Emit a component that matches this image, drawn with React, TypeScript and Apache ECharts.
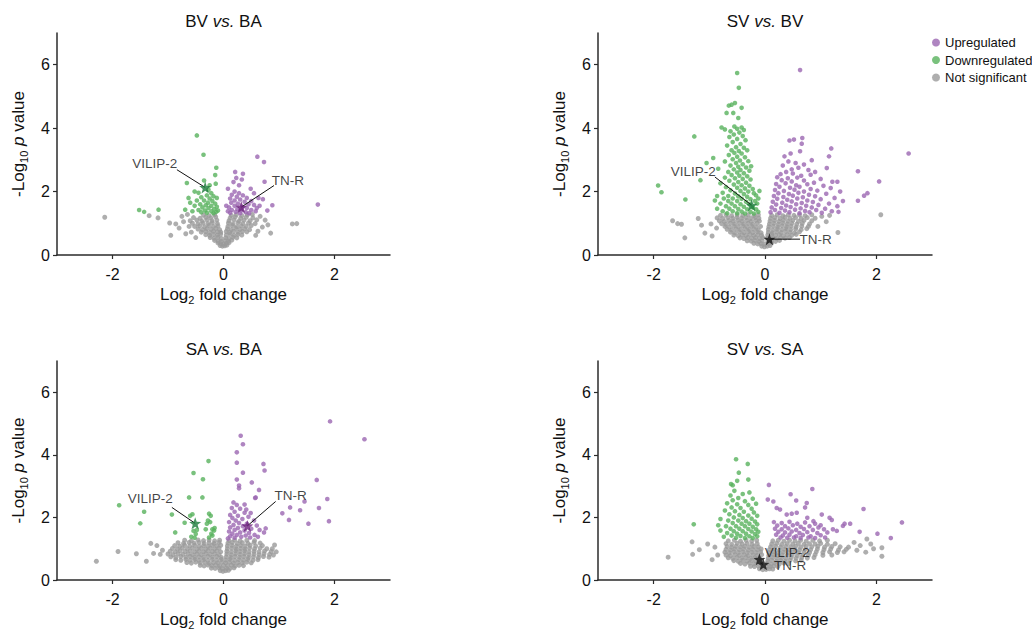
import React, { useEffect, useRef } from 'react';
import * as echarts from 'echarts';

const PANEL_TITLES = [['BV', 'BA'], ['SV', 'BV'], ['SA', 'BA'], ['SV', 'SA']];
const LEGEND_NAMES = ['Upregulated', 'Downregulated', 'Not significant'];
const X_TICKS = [-2, 0, 2];
const Y_TICKS = [0, 2, 4, 6];

// ---------- Panel 1: BV vs. BA ----------
const P1_UP = [[0.61,3.10],[0.73,2.93],[0.21,2.62],[0.35,2.56],[0.23,2.43],[0.33,2.38],[0.74,2.31],[0.08,2.09],[0.49,2.09],[0.63,1.80],[0.71,1.76],[0.88,1.57],[0.79,1.40],[1.70,1.59],
[0.2,2.0],[0.28,1.95],[0.15,1.9],[0.35,1.88],[0.24,1.84],[0.42,1.8],[0.12,1.78],[0.3,1.75],[0.2,1.72],[0.5,1.7],[0.38,1.68],[0.14,1.65],[0.26,1.62],[0.45,1.6],[0.55,1.58],[0.2,1.55],[0.34,1.52],[0.1,1.5],[0.42,1.48],[0.6,1.48],[0.25,1.45],[0.15,1.42],[0.5,1.42],[0.32,1.4],[0.08,1.38],[0.22,1.36],[0.4,1.35],[0.58,1.38],[0.12,1.33],[0.3,1.32],[0.46,1.32],[0.28,2.2],[0.55,1.95],[0.65,1.55],[0.18,2.3],[0.05,1.55]];
const P1_DOWN = [[-0.48,3.77],[-0.36,3.16],[-0.13,2.75],[-0.15,2.52],[-0.66,2.27],[-0.14,2.25],[-0.27,2.06],[-0.45,1.96],[-0.63,1.80],[-0.48,1.72],[-0.69,1.43],[-1.52,1.42],[-1.43,1.36],[-1.17,1.43],
[-0.22,1.95],[-0.3,1.88],[-0.18,1.85],[-0.4,1.82],[-0.25,1.78],[-0.12,1.8],[-0.35,1.72],[-0.2,1.7],[-0.28,1.65],[-0.15,1.62],[-0.42,1.6],[-0.32,1.57],[-0.22,1.55],[-0.12,1.52],[-0.38,1.5],[-0.27,1.48],[-0.17,1.45],[-0.45,1.42],[-0.33,1.4],[-0.22,1.38],[-0.13,1.36],[-0.52,1.55],[-0.56,1.38],[-0.3,1.33],[-0.4,1.35],[-0.18,1.32],[-0.25,2.2],[-0.52,2.0],[-0.35,2.35],[-0.1,1.4],[-0.6,1.65]];
const P1_NS = [[-2.14,1.19],[-1.34,1.24],[-1.18,1.17],[-0.97,1.01],[-0.86,0.98],[-0.95,0.62],[-0.75,1.22],[-0.68,0.67],[1.24,0.98],[1.32,0.99],[0.85,0.69],[0.66,1.22],[0.70,0.88],[-0.8,0.85],[-0.72,1.05],[0.75,1.1],[0.8,0.95],[-0.62,0.9],[0.62,0.75],[-0.58,0.72],[0.58,0.62],[-0.5,0.55],[0.52,1.28],[-0.65,1.28],
[-0.06,0.3],[-0.02,0.28],[0.02,0.29],[0.06,0.31],
[-0.1,0.38],[-0.05,0.36],[0.0,0.35],[0.05,0.37],[0.1,0.39],
[-0.16,0.46],[-0.1,0.44],[-0.04,0.43],[0.03,0.45],[0.09,0.44],[0.15,0.47],
[-0.24,0.55],[-0.17,0.53],[-0.1,0.56],[-0.04,0.52],[0.04,0.54],[0.1,0.52],[0.17,0.56],[0.24,0.54],
[-0.32,0.64],[-0.25,0.62],[-0.18,0.65],[-0.11,0.63],[-0.05,0.66],[0.05,0.63],[0.12,0.66],[0.19,0.62],[0.26,0.65],[0.33,0.63],
[-0.4,0.72],[-0.32,0.74],[-0.25,0.71],[-0.18,0.75],[-0.11,0.73],[-0.05,0.72],[0.05,0.74],[0.11,0.71],[0.18,0.75],[0.26,0.72],[0.34,0.74],[0.42,0.73],
[-0.46,0.82],[-0.38,0.8],[-0.3,0.83],[-0.22,0.81],[-0.14,0.84],[-0.07,0.8],[0.07,0.82],[0.14,0.8],[0.22,0.84],[0.3,0.81],[0.38,0.83],[0.47,0.8],
[-0.52,0.9],[-0.43,0.92],[-0.34,0.89],[-0.26,0.93],[-0.18,0.9],[-0.1,0.92],[0.08,0.9],[0.16,0.93],[0.24,0.89],[0.32,0.92],[0.41,0.9],[0.5,0.93],
[-0.56,1.0],[-0.46,0.98],[-0.37,1.01],[-0.28,0.99],[-0.2,1.02],[-0.11,0.99],[0.09,1.01],[0.17,0.98],[0.26,1.02],[0.35,0.99],[0.45,1.01],[0.57,0.99],
[-0.6,1.08],[-0.48,1.1],[-0.39,1.07],[-0.3,1.11],[-0.21,1.08],[-0.12,1.1],[0.1,1.08],[0.19,1.11],[0.28,1.07],[0.37,1.1],[0.48,1.08],[0.6,1.11],
[-0.54,1.18],[-0.42,1.16],[-0.32,1.19],[-0.23,1.17],[-0.14,1.2],[0.12,1.17],[0.21,1.2],[0.31,1.16],[0.41,1.19],[0.53,1.17],
[-0.36,1.26],[-0.26,1.24],[-0.16,1.27],[0.14,1.25],[0.23,1.27],[0.33,1.24],[0.43,1.27]];
const P1_STARS = [['VILIP-2', -0.33, 2.13], ['TN-R', 0.32, 1.51]];
const P1_NOTES = [['VILIP-2', -1.24, 2.90, -0.84, 2.69], ['TN-R', 1.16, 2.34, 0.91, 2.19]];

// ---------- Panel 2: SV vs. BV ----------
const P2_UP = [[0.63,5.83],[0.44,3.61],[0.52,3.64],[0.67,3.69],[1.19,3.36],[2.58,3.2],[0.35,3.11],[0.46,3.2],[0.66,3.51],[0.63,3.27],[1.15,3.11],[0.84,2.99],[1.11,2.74],[1.67,2.64],[1.21,2.31],[2.05,2.32],[1.84,1.95],[1.78,1.87],[1.67,1.71],
[0.42,2.95],[0.55,2.9],[0.7,2.85],[0.32,2.82],[0.6,2.75],[0.48,2.7],[0.78,2.68],[0.38,2.62],[0.9,2.62],
[0.28,2.55],[0.5,2.57],[0.65,2.5],[0.82,2.53],[0.22,2.45],[0.41,2.42],[0.58,2.44],[1.0,2.4],[0.3,2.36],[0.48,2.32],[0.7,2.35],[0.88,2.28],[1.3,2.31],[0.2,2.24],[0.37,2.26],[0.56,2.2],[0.76,2.23],[1.05,2.18],
[0.26,2.15],[0.45,2.12],[0.62,2.15],[0.82,2.08],[1.18,2.11],[0.18,2.05],[0.34,2.02],[0.53,2.06],[0.7,2.0],[0.94,2.03],[1.35,2.0],[0.24,1.95],[0.43,1.92],[0.6,1.96],[0.79,1.9],[1.1,1.93],[0.16,1.86],[0.33,1.83],[0.5,1.87],[0.68,1.82],[0.9,1.85],[1.25,1.8],
[0.22,1.77],[0.4,1.74],[0.58,1.78],[0.76,1.72],[1.0,1.76],[1.4,1.7],[0.14,1.68],[0.31,1.65],[0.48,1.69],[0.66,1.64],[0.86,1.67],[1.15,1.62],[0.2,1.59],[0.38,1.56],[0.56,1.6],[0.74,1.55],[0.96,1.58],[1.3,1.54],[0.12,1.5],[0.29,1.48],[0.46,1.51],[0.64,1.47],[0.84,1.5],[1.08,1.46],[0.18,1.42],[0.36,1.4],[0.54,1.43],[0.72,1.39],[0.92,1.42],[1.2,1.38],[0.1,1.35],[0.26,1.33],[0.44,1.35],[0.62,1.32],[0.8,1.35],[1.02,1.33],[1.32,1.36]];
const P2_DOWN = [[-0.50,5.74],[-0.47,5.27],[-0.60,4.74],[-0.54,4.79],[-0.65,4.71],[-0.42,4.64],[-0.69,4.48],[-0.57,4.48],[-0.48,4.32],[-1.27,3.74],[-1.92,2.19],[-1.86,1.98],[-1.43,1.75],[-1.16,2.36],[-1.05,2.9],[-0.93,3.06],
[-0.78,4.02],[-0.72,3.96],[-0.55,4.05],[-0.5,3.98],[-0.42,4.02],[-0.38,3.94],[-0.62,3.9],[-0.46,3.86],[-0.56,3.8],[-0.4,3.75],[-0.64,3.72],[-0.5,3.66],[-0.35,3.62],[-0.58,3.56],[-0.44,3.5],[-0.68,3.45],[-0.52,3.4],[-0.38,3.38],[-0.6,3.3],[-0.47,3.28],[-0.32,3.3],
[-0.55,3.22],[-0.42,3.2],[-0.65,3.15],[-0.5,3.1],[-0.36,3.08],[-0.58,3.02],[-0.45,2.98],[-0.3,2.96],[-0.72,2.95],[-0.52,2.9],[-0.4,2.86],[-0.62,2.82],[-0.48,2.78],[-0.34,2.76],[-0.56,2.7],[-0.44,2.68],[-0.28,2.66],[-0.66,2.62],[-0.5,2.6],[-0.38,2.58],[-0.84,2.72],[-0.25,2.8],
[-0.6,2.52],[-0.46,2.5],[-0.32,2.48],[-0.72,2.44],[-0.54,2.42],[-0.4,2.4],[-0.26,2.38],[-0.64,2.34],[-0.48,2.3],[-0.34,2.28],[-0.8,2.26],[-0.56,2.22],[-0.42,2.2],[-0.28,2.18],[-0.7,2.14],[-0.5,2.12],[-0.36,2.1],[-0.22,2.08],[-0.62,2.04],[-0.44,2.02],[-0.3,2.0],[-0.76,1.96],[-0.54,1.94],[-0.38,1.92],[-0.2,1.95],[-0.1,2.02],[-0.12,1.78],
[-0.86,1.86],[-0.66,1.86],[-0.48,1.85],[-0.32,1.84],[-0.16,1.88],[-0.74,1.78],[-0.58,1.78],[-0.42,1.77],[-0.26,1.76],[-0.9,1.72],[-0.66,1.7],[-0.5,1.7],[-0.34,1.68],[-0.18,1.7],[-0.8,1.62],[-0.6,1.62],[-0.44,1.6],[-0.28,1.6],[-0.14,1.62],[-0.7,1.54],[-0.54,1.54],[-0.38,1.52],[-0.22,1.5],[-0.86,1.46],[-0.64,1.46],[-0.48,1.45],[-0.32,1.44],[-0.16,1.44],[-0.76,1.38],[-0.58,1.38],[-0.42,1.37],[-0.26,1.36],[-0.12,1.36],[-0.68,1.32],[-0.5,1.32],[-0.36,1.31],[-0.2,1.31]];
const P2_NS = [[-1.66,1.08],[-1.57,0.99],[-1.5,0.97],[-1.44,0.54],[-1.14,0.94],[-0.97,0.98],[-1.08,0.69],[-0.87,0.85],[1.31,0.71],[1.16,1.25],[1.02,1.22],[2.08,1.27],[-1.2,1.15],[-0.95,0.6],[1.1,1.05],[0.95,0.9],
[-0.06,0.28],[-0.01,0.26],[0.04,0.28],[0.09,0.3],
[-0.2,0.37],[-0.13,0.35],[-0.07,0.36],[0.0,0.34],[0.06,0.36],[0.12,0.38],
[-0.32,0.45],[-0.25,0.44],[-0.18,0.46],[-0.11,0.43],[-0.05,0.45],[0.05,0.44],[0.12,0.46],[0.19,0.43],[0.26,0.46],
[-0.45,0.54],[-0.38,0.52],[-0.31,0.55],[-0.24,0.53],[-0.17,0.55],[-0.1,0.52],[-0.04,0.55],[0.04,0.53],[0.14,0.55],[0.21,0.52],[0.28,0.55],[0.36,0.53],[0.44,0.55],
[-0.56,0.63],[-0.48,0.61],[-0.41,0.64],[-0.34,0.62],[-0.27,0.65],[-0.2,0.62],[-0.13,0.64],[-0.06,0.62],[0.05,0.63],[0.12,0.65],[0.19,0.62],[0.26,0.64],[0.33,0.61],[0.4,0.64],[0.48,0.62],[0.56,0.65],
[-0.62,0.72],[-0.54,0.7],[-0.46,0.73],[-0.38,0.71],[-0.3,0.74],[-0.22,0.71],[-0.14,0.73],[-0.07,0.7],[0.06,0.72],[0.13,0.7],[0.21,0.73],[0.29,0.71],[0.37,0.74],[0.45,0.72],[0.53,0.7],[0.62,0.73],
[-0.68,0.81],[-0.6,0.79],[-0.52,0.82],[-0.44,0.8],[-0.36,0.83],[-0.28,0.8],[-0.2,0.82],[-0.12,0.79],[0.06,0.81],[0.14,0.79],[0.22,0.82],[0.3,0.8],[0.38,0.83],[0.46,0.8],[0.55,0.82],[0.65,0.8],[0.75,0.83],
[-0.72,0.9],[-0.64,0.88],[-0.56,0.91],[-0.48,0.89],[-0.4,0.92],[-0.32,0.89],[-0.24,0.91],[-0.16,0.88],[-0.08,0.9],[0.07,0.89],[0.15,0.91],[0.23,0.88],[0.31,0.92],[0.39,0.89],[0.47,0.91],[0.56,0.88],[0.66,0.91],[0.78,0.9],
[-0.78,0.99],[-0.7,0.97],[-0.62,1.0],[-0.54,0.98],[-0.46,1.01],[-0.38,0.98],[-0.3,1.0],[-0.22,0.97],[-0.14,1.0],[0.08,0.98],[0.16,1.0],[0.24,0.97],[0.32,1.01],[0.4,0.98],[0.48,1.0],[0.57,0.97],[0.67,1.0],[0.8,0.98],
[-0.82,1.08],[-0.73,1.06],[-0.65,1.09],[-0.57,1.07],[-0.49,1.1],[-0.41,1.07],[-0.33,1.09],[-0.25,1.06],[-0.17,1.09],[-0.1,1.07],[0.09,1.07],[0.17,1.09],[0.25,1.06],[0.33,1.1],[0.41,1.07],[0.5,1.09],[0.6,1.06],[0.7,1.09],[0.84,1.08],
[-0.86,1.17],[-0.76,1.15],[-0.67,1.18],[-0.58,1.16],[-0.5,1.19],[-0.42,1.16],[-0.34,1.18],[-0.26,1.15],[-0.18,1.18],[-0.11,1.16],[0.1,1.16],[0.18,1.18],[0.27,1.15],[0.36,1.19],[0.45,1.16],[0.55,1.18],[0.65,1.15],[0.76,1.18],[0.9,1.16],
[-0.8,1.25],[-0.7,1.27],[-0.6,1.24],[-0.5,1.27],[-0.4,1.25],[-0.3,1.27],[-0.2,1.24],[-0.12,1.27],[0.12,1.25],[0.22,1.27],[0.32,1.24],[0.42,1.27],[0.52,1.25],[0.62,1.27],[0.72,1.24],[0.84,1.27]];
const P2_STARS = [['VILIP-2', -0.24, 1.57], ['TN-R', 0.08, 0.50]];
const P2_NOTES = [['VILIP-2', -1.29, 2.64, -0.9, 2.46], ['TN-R', 0.91, 0.50, 0.63, 0.50]];

// ---------- Panel 3: SA vs. BA ----------
const P3_UP = [[1.92,5.07],[2.54,4.50],[0.31,4.61],[0.35,4.34],[0.24,4.08],[0.24,3.75],[0.72,3.71],[0.74,3.50],[0.35,3.43],[0.24,3.21],[0.51,3.12],[1.68,3.20],[0.28,3.02],[0.28,2.93],[0.64,2.88],[0.58,2.64],[1.87,2.59],[1.46,2.51],[1.72,2.30],[1.2,2.32],[1.38,2.23],[1.06,2.13],[1.18,1.92],[1.90,1.88],[1.53,1.80],[0.76,1.65],[0.73,1.52],
[0.18,2.48],[0.24,2.4],[0.15,2.3],[0.3,2.28],[0.2,2.18],[0.38,2.15],[0.12,2.08],[0.26,2.05],[0.45,2.02],[0.16,1.98],[0.34,1.95],[0.22,1.9],[0.55,1.9],[0.1,1.85],[0.28,1.82],[0.42,1.8],[0.18,1.76],[0.35,1.72],[0.6,1.74],[0.12,1.68],[0.26,1.66],[0.5,1.64],[0.2,1.6],[0.38,1.58],[0.65,1.6],[0.1,1.55],[0.3,1.52],[0.46,1.5],[0.16,1.48],[0.24,1.44],[0.4,1.42],[0.56,1.44],[0.12,1.4],[0.32,1.38],[0.2,1.35],[0.48,1.36],[0.08,1.33],[0.62,1.38],[0.41,2.25],[0.49,2.14],[0.57,2.62],[0.38,2.41]];
const P3_DOWN = [[-0.27,3.80],[-0.54,3.42],[-0.37,3.22],[-0.62,2.64],[-0.38,2.64],[-1.88,2.39],[-1.43,2.18],[-1.50,1.81],[-0.93,2.09],[-0.70,1.83],[-0.87,1.52],
[-0.54,1.57],[-0.5,1.47],[-0.48,1.6],[-0.58,1.38],[-0.52,1.35],[-0.56,2.1],[-0.6,2.05],
[-0.26,2.12],[-0.23,2.05],[-0.28,1.9],[-0.24,1.85],[-0.2,1.62],[-0.17,1.58],[-0.22,1.48],[-0.2,1.42],[-0.26,1.36],[-0.3,1.8],[-0.16,1.66],[-0.32,1.62]];
const P3_NS = [[-2.29,0.6],[-1.9,0.91],[-1.57,0.84],[-1.39,0.6],[-1.31,1.17],[-1.26,0.85],[-1.14,0.82],[-1.1,0.95],[0.9,0.8],[0.95,0.9],[0.88,1.0],[0.92,1.12],[-1.2,1.1],
[-0.06,0.3],[-0.01,0.28],[0.04,0.3],[0.09,0.31],
[-0.22,0.38],[-0.15,0.37],[-0.08,0.39],[-0.02,0.36],[0.05,0.38],[0.12,0.37],[0.19,0.39],
[-0.42,0.47],[-0.35,0.45],[-0.28,0.48],[-0.21,0.46],[-0.14,0.48],[-0.07,0.45],[0.0,0.47],[0.07,0.46],[0.14,0.48],[0.21,0.45],[0.28,0.47],[0.36,0.46],
[-0.66,0.56],[-0.58,0.54],[-0.5,0.57],[-0.42,0.55],[-0.34,0.57],[-0.26,0.54],[-0.18,0.56],[-0.1,0.55],[-0.03,0.57],[0.04,0.55],[0.11,0.57],[0.18,0.54],[0.26,0.56],[0.34,0.55],[0.42,0.57],[0.5,0.55],
[-0.86,0.65],[-0.77,0.63],[-0.68,0.66],[-0.6,0.64],[-0.52,0.66],[-0.44,0.63],[-0.36,0.65],[-0.28,0.63],[-0.2,0.66],[-0.12,0.64],[-0.04,0.66],[0.04,0.64],[0.12,0.66],[0.2,0.63],[0.28,0.65],[0.36,0.64],[0.44,0.66],[0.53,0.63],[0.62,0.65],
[-0.95,0.74],[-0.86,0.72],[-0.77,0.75],[-0.68,0.73],[-0.6,0.75],[-0.52,0.72],[-0.44,0.74],[-0.36,0.72],[-0.28,0.75],[-0.2,0.73],[-0.12,0.75],[-0.04,0.72],[0.05,0.74],[0.13,0.72],[0.21,0.75],[0.29,0.73],[0.37,0.75],[0.45,0.72],[0.54,0.74],[0.63,0.72],[0.72,0.75],[0.82,0.73],
[-1.0,0.83],[-0.91,0.81],[-0.82,0.84],[-0.73,0.82],[-0.64,0.84],[-0.56,0.81],[-0.48,0.83],[-0.4,0.81],[-0.32,0.84],[-0.24,0.82],[-0.16,0.84],[-0.08,0.81],[0.06,0.83],[0.14,0.81],[0.22,0.84],[0.3,0.82],[0.38,0.84],[0.46,0.81],[0.55,0.83],[0.64,0.81],[0.73,0.84],[0.83,0.82],
[-0.96,0.92],[-0.87,0.9],[-0.78,0.93],[-0.69,0.91],[-0.6,0.93],[-0.52,0.9],[-0.44,0.92],[-0.36,0.9],[-0.28,0.93],[-0.2,0.91],[-0.12,0.93],[-0.05,0.9],[0.06,0.92],[0.14,0.9],[0.22,0.93],[0.3,0.91],[0.38,0.93],[0.46,0.9],[0.55,0.92],[0.64,0.9],[0.74,0.93],[0.86,0.91],
[-0.92,1.01],[-0.83,0.99],[-0.74,1.02],[-0.65,1.0],[-0.56,1.02],[-0.48,0.99],[-0.4,1.01],[-0.32,0.99],[-0.24,1.02],[-0.16,1.0],[-0.08,1.02],[0.07,1.0],[0.15,1.02],[0.23,0.99],[0.31,1.01],[0.39,0.99],[0.47,1.02],[0.56,1.0],[0.66,1.02],[0.78,1.0],
[-0.88,1.1],[-0.79,1.08],[-0.7,1.11],[-0.61,1.09],[-0.52,1.11],[-0.44,1.08],[-0.36,1.1],[-0.28,1.08],[-0.2,1.11],[-0.12,1.09],[-0.05,1.11],[0.07,1.09],[0.15,1.11],[0.23,1.08],[0.31,1.1],[0.39,1.08],[0.48,1.11],[0.58,1.09],[0.7,1.1],
[-0.82,1.19],[-0.72,1.17],[-0.62,1.2],[-0.53,1.18],[-0.44,1.2],[-0.35,1.17],[-0.26,1.19],[-0.17,1.17],[-0.08,1.2],[0.08,1.18],[0.16,1.2],[0.25,1.17],[0.34,1.19],[0.44,1.17],[0.55,1.2],[0.66,1.18],
[-0.7,1.27],[-0.58,1.25],[-0.46,1.28],[-0.36,1.26],[-0.26,1.28],[-0.16,1.25],[-0.07,1.27],[0.1,1.26],[0.2,1.28],[0.3,1.25],[0.42,1.27],[0.56,1.26]];
const P3_STARS = [['VILIP-2', -0.51, 1.81], ['TN-R', 0.43, 1.73]];
const P3_NOTES = [['VILIP-2', -1.32, 2.60, -0.93, 2.32], ['TN-R', 1.21, 2.70, 0.94, 2.51]];

// ---------- Panel 4: SV vs. SA ----------
const P4_UP = [[0.07,3.04],[0.85,2.91],[0.05,2.57],[0.46,2.74],[0.56,2.54],[0.72,2.32],[0.75,2.46],[1.77,2.27],[2.46,1.84],[2.26,1.34],[2.02,1.48],[1.53,1.80],[1.43,1.80],[1.29,1.57],[1.70,1.54],[1.16,1.99],[1.2,1.92],
[0.15,2.51],[0.21,2.3],[0.27,2.25],[0.39,2.09],[0.48,2.12],[0.57,2.15],[0.76,1.99],[0.87,1.88],[1.02,2.09],[1.22,1.62],[1.40,1.73],[0.96,1.68],
[0.16,1.85],[0.3,1.82],[0.44,1.86],[0.58,1.8],[0.72,1.84],[0.9,1.8],[0.22,1.74],[0.36,1.72],[0.5,1.75],[0.64,1.7],[0.8,1.72],[1.0,1.75],[0.18,1.64],[0.3,1.62],[0.42,1.65],[0.56,1.6],[0.7,1.63],[0.86,1.6],[1.06,1.62],[0.24,1.54],[0.36,1.52],[0.48,1.55],[0.62,1.5],[0.76,1.53],[0.94,1.5],[1.12,1.52],[0.2,1.45],[0.32,1.42],[0.44,1.45],[0.56,1.4],[0.68,1.44],[0.82,1.4],[1.0,1.43],[0.28,1.36],[0.4,1.35],[0.52,1.36],[0.64,1.34],[0.78,1.36],[0.9,1.34],[1.08,1.36]];
const P4_DOWN = [[-0.52,3.86],[-0.31,3.71],[-0.47,3.43],[-0.30,3.21],[-0.5,3.17],[-0.61,3.07],[-0.58,3.03],[-1.28,1.78],
[-0.55,2.85],[-0.4,2.75],[-0.28,2.8],[-0.62,2.7],[-0.48,2.62],[-0.22,2.6],[-0.58,2.55],[-0.36,2.52],[-0.68,2.45],[-0.5,2.42],[-0.3,2.4],[-0.16,2.44],[-0.6,2.32],[-0.44,2.3],[-0.24,2.28],[-0.72,2.22],[-0.54,2.2],[-0.38,2.18],[-0.2,2.16],[-0.64,2.1],[-0.46,2.08],[-0.3,2.06],[-0.14,2.05],[-0.56,2.0],[-0.4,1.98],[-0.24,1.96],[-0.8,1.95],[-0.66,1.9],[-0.48,1.9],[-0.34,1.88],[-0.18,1.87],[-0.58,1.82],[-0.42,1.8],[-0.28,1.8],[-0.14,1.78],[-0.84,1.75],[-0.7,1.72],[-0.52,1.72],[-0.36,1.72],[-0.22,1.7],[-0.62,1.64],[-0.46,1.64],[-0.3,1.63],[-0.16,1.62],[-0.8,1.58],[-0.56,1.56],[-0.4,1.56],[-0.24,1.55],[-0.12,1.54],[-0.68,1.5],[-0.5,1.48],[-0.34,1.48],[-0.18,1.47],[-0.6,1.42],[-0.44,1.41],[-0.28,1.4],[-0.14,1.4],[-0.52,1.35],[-0.36,1.34],[-0.22,1.34],[-0.74,1.38]];
const P4_NS = [[-1.74,0.73],[-1.31,1.22],[-1.30,0.82],[-1.18,0.97],[-1.03,1.15],[2.10,1.03],[2.10,0.76],[1.83,1.31],[1.71,1.10],[1.81,0.89],[-0.9,1.05],[-0.85,0.8],[1.95,1.0],[1.6,1.2],[1.65,0.95],[1.5,1.05],[1.9,1.15],[-0.95,0.65],
[-0.1,0.36],[-0.04,0.33],[0.02,0.34],[0.08,0.36],[0.14,0.35],
[-0.26,0.44],[-0.19,0.43],[-0.12,0.45],[-0.06,0.42],[0.02,0.44],[0.09,0.43],[0.16,0.45],[0.23,0.43],
[-0.44,0.53],[-0.36,0.51],[-0.28,0.54],[-0.2,0.52],[-0.13,0.54],[-0.06,0.51],[0.04,0.53],[0.11,0.51],[0.18,0.54],[0.26,0.52],[0.34,0.54],[0.42,0.52],
[-0.56,0.62],[-0.48,0.6],[-0.4,0.63],[-0.32,0.61],[-0.24,0.63],[-0.16,0.6],[-0.08,0.62],[0.05,0.61],[0.12,0.63],[0.2,0.6],[0.28,0.62],[0.36,0.6],[0.45,0.63],[0.55,0.61],[0.65,0.63],
[-0.66,0.71],[-0.58,0.69],[-0.5,0.72],[-0.42,0.7],[-0.34,0.72],[-0.26,0.69],[-0.18,0.71],[-0.1,0.7],[0.06,0.7],[0.14,0.72],[0.22,0.69],[0.3,0.71],[0.38,0.69],[0.47,0.72],[0.56,0.7],[0.66,0.72],[0.76,0.7],[0.88,0.72],
[-0.7,0.8],[-0.62,0.78],[-0.54,0.81],[-0.46,0.79],[-0.38,0.81],[-0.3,0.78],[-0.22,0.8],[-0.14,0.79],[-0.06,0.81],[0.07,0.79],[0.15,0.81],[0.23,0.78],[0.31,0.8],[0.4,0.79],[0.49,0.81],[0.58,0.78],[0.68,0.8],[0.78,0.79],[0.9,0.81],[1.04,0.79],[1.2,0.8],
[-0.72,0.89],[-0.64,0.87],[-0.56,0.9],[-0.48,0.88],[-0.4,0.9],[-0.32,0.87],[-0.24,0.89],[-0.16,0.88],[-0.08,0.9],[0.07,0.88],[0.15,0.9],[0.24,0.87],[0.33,0.89],[0.42,0.88],[0.51,0.9],[0.6,0.87],[0.7,0.89],[0.8,0.88],[0.92,0.9],[1.04,0.88],[1.16,0.9],[1.3,0.88],[1.42,0.9],
[-0.7,0.98],[-0.62,0.96],[-0.54,0.99],[-0.46,0.97],[-0.38,0.99],[-0.3,0.96],[-0.22,0.98],[-0.14,0.97],[-0.07,0.99],[0.08,0.97],[0.17,0.99],[0.26,0.96],[0.35,0.98],[0.44,0.97],[0.53,0.99],[0.62,0.96],[0.72,0.98],[0.82,0.97],[0.94,0.99],[1.06,0.97],[1.18,0.99],[1.32,0.96],[1.46,0.98],
[-0.68,1.07],[-0.6,1.05],[-0.52,1.08],[-0.44,1.06],[-0.36,1.08],[-0.28,1.05],[-0.2,1.07],[-0.12,1.06],[0.1,1.06],[0.19,1.08],[0.28,1.05],[0.37,1.07],[0.46,1.06],[0.55,1.08],[0.64,1.05],[0.74,1.07],[0.84,1.06],[0.95,1.08],[1.07,1.05],[1.2,1.07],[1.35,1.06],
[-0.7,1.16],[-0.6,1.14],[-0.5,1.17],[-0.41,1.15],[-0.32,1.17],[-0.23,1.14],[-0.14,1.16],[0.12,1.15],[0.21,1.17],[0.3,1.14],[0.4,1.16],[0.5,1.15],[0.6,1.17],[0.7,1.14],[0.8,1.16],[0.9,1.15],[1.0,1.17],[1.12,1.14],[1.26,1.16],
[-0.66,1.25],[-0.55,1.27],[-0.44,1.24],[-0.34,1.27],[-0.24,1.25],[-0.15,1.27],[0.14,1.25],[0.24,1.27],[0.34,1.24],[0.44,1.27],[0.54,1.25],[0.64,1.27],[0.74,1.24],[0.86,1.27],[0.98,1.25],[1.12,1.27]];
const P4_STARS = [['VILIP-2', -0.10, 0.66], ['TN-R', -0.03, 0.50]];
const P4_NOTES = [['VILIP-2', 0.40, 0.89, null, null], ['TN-R', 0.45, 0.45, null, null]];

// star tone per panel: which group each highlighted protein belongs to
const STAR_TONES = [['down', 'up'], ['down', 'ns'], ['down', 'up'], ['ns', 'ns']];

const PANELS = [
  { up: P1_UP, down: P1_DOWN, ns: P1_NS, stars: P1_STARS, notes: P1_NOTES },
  { up: P2_UP, down: P2_DOWN, ns: P2_NS, stars: P2_STARS, notes: P2_NOTES },
  { up: P3_UP, down: P3_DOWN, ns: P3_NS, stars: P3_STARS, notes: P3_NOTES },
  { up: P4_UP, down: P4_DOWN, ns: P4_NS, stars: P4_STARS, notes: P4_NOTES },
];

const FONT = '"Liberation Sans", Arial, Helvetica, sans-serif';
const C_UP = '#9b66b2';
const C_DOWN = '#58b15c';
const C_NS = '#9a9a9a';
const STAR_COLOR: Record<string, string> = { up: '#6c1f7c', down: '#1a7a3a', ns: '#111111' };
const AXIS_COLOR = '#2b2b2b';
const STAR_PATH = 'path://M0,-10 L2.35,-3.24 L9.51,-3.09 L3.8,1.24 L5.88,8.09 L0,4 L-5.88,8.09 L-3.8,1.24 L-9.51,-3.09 L-2.35,-3.24 Z';

const GRIDS = [
  { left: 57, top: 33, width: 333, height: 222 },
  { left: 598, top: 33, width: 334, height: 222 },
  { left: 57, top: 361, width: 333, height: 222 },
  { left: 598, top: 361, width: 334, height: 222 },
];

function buildOption() {
  const nameRich = {
    a: { fontSize: 17, fontFamily: FONT, color: '#111', lineHeight: 22 },
    s: { fontSize: 11, fontFamily: FONT, color: '#111', lineHeight: 11, verticalAlign: 'bottom' },
    i: { fontSize: 17, fontFamily: FONT, color: '#111', fontStyle: 'italic', lineHeight: 22 },
  };
  const xAxis = GRIDS.map((_, i) => ({
    type: 'value', gridIndex: i, min: -3, max: 3,
    name: '{a|Log}{s|2}{a| fold change}', nameLocation: 'middle', nameGap: 28,
    nameMoveOverlap: false,
    nameTextStyle: { rich: nameRich },
    axisLine: { show: true, onZero: false, lineStyle: { color: AXIS_COLOR, width: 1.5 } },
    axisTick: { show: true, length: 4, customValues: X_TICKS, lineStyle: { color: AXIS_COLOR, width: 1.2 } },
    axisLabel: { customValues: X_TICKS, fontSize: 16, color: '#111', fontFamily: FONT, margin: 11 },
    splitLine: { show: false },
  }));
  const yAxis = GRIDS.map((_, i) => ({
    type: 'value', gridIndex: i, min: 0, max: 7,
    name: '{a|-Log}{s|10}{a| }{i|p}{a| value}', nameLocation: 'middle', nameGap: 28,
    nameMoveOverlap: false,
    nameTextStyle: { rich: nameRich },
    axisLine: { show: true, onZero: false, lineStyle: { color: AXIS_COLOR, width: 1.5 } },
    axisTick: { show: true, length: 4, customValues: Y_TICKS, lineStyle: { color: AXIS_COLOR, width: 1.2 } },
    axisLabel: { customValues: Y_TICKS, fontSize: 16, color: '#111', fontFamily: FONT, margin: 7 },
    splitLine: { show: false },
  }));

  const series: any[] = [];
  PANELS.forEach((p, i) => {
    const common = { type: 'scatter', xAxisIndex: i, yAxisIndex: i, symbol: 'circle', silent: true };
    series.push({ ...common, name: 'Not significant', data: p.ns, symbolSize: 5, itemStyle: { color: C_NS }, z: 2 });
    series.push({ ...common, name: 'Downregulated', data: p.down, symbolSize: 4.6, itemStyle: { color: C_DOWN }, z: 3 });
    series.push({ ...common, name: 'Upregulated', data: p.up, symbolSize: 4.6, itemStyle: { color: C_UP }, z: 3 });
    p.notes.forEach((n: any) => {
      const star = p.stars.find((s: any) => s[0] === n[0]) as any;
      if (n[3] !== null && star) {
        series.push({
          type: 'line', name: 'leader-' + n[0], xAxisIndex: i, yAxisIndex: i, silent: true,
          data: [[n[3], n[4]], [star[1], star[2]]], showSymbol: false, symbol: 'none',
          lineStyle: { color: '#111', width: 1 }, z: 4,
        });
      }
    });
    series.push({
      type: 'scatter', name: 'notes', xAxisIndex: i, yAxisIndex: i, silent: true,
      symbol: 'circle', symbolSize: 1, itemStyle: { color: 'rgba(0,0,0,0)' },
      data: p.notes.map((n: any) => ({ name: n[0], value: [n[1], n[2]] })),
      label: {
        show: true, position: 'inside', formatter: '{b}', fontSize: 13.5, color: '#111',
        fontFamily: FONT, textBorderWidth: 0, textShadowBlur: 0,
      },
      z: 6,
    });
    series.push({
      type: 'scatter', name: 'stars', xAxisIndex: i, yAxisIndex: i, silent: true,
      symbol: STAR_PATH, symbolSize: 12,
      data: p.stars.map((s: any, k: number) => ({ name: s[0], value: [s[1], s[2]], itemStyle: { color: STAR_COLOR[STAR_TONES[i][k]] } })),
      z: 5,
    });
  });

  const titleRich = {
    a: { fontSize: 17, fontFamily: FONT, fill: '#111' },
    i: { fontSize: 17, fontFamily: FONT, fill: '#111', fontStyle: 'italic' },
  };
  const graphic = PANEL_TITLES.map((t, i) => ({
    type: 'text',
    x: GRIDS[i].left + GRIDS[i].width / 2,
    y: GRIDS[i].top - 12,
    style: {
      text: `{a|${t[0]} }{i|vs.}{a| ${t[1]}}`,
      rich: titleRich,
      align: 'center', verticalAlign: 'middle',
    },
  }));

  return {
    animation: false,
    backgroundColor: '#ffffff',
    textStyle: { fontFamily: FONT },
    grid: GRIDS,
    xAxis, yAxis, series, graphic,
    legend: {
      data: LEGEND_NAMES, orient: 'vertical', left: 927, top: 31,
      icon: 'circle', itemWidth: 8, itemHeight: 8, itemGap: 4.5,
      textStyle: { fontSize: 13, color: '#111', fontFamily: FONT },
      selectedMode: false,
    },
  };
}

export default function App() {
  const ref = useRef<HTMLDivElement>(null);
  useEffect(() => {
    if (!ref.current) return;
    const chart = echarts.init(ref.current, null, { renderer: 'svg' });
    chart.setOption(buildOption() as any);
    return () => chart.dispose();
  }, []);
  return <div ref={ref} style={{ position: 'fixed', left: 0, top: 0, width: 1032, height: 631, background: '#fff' }} />;
}
